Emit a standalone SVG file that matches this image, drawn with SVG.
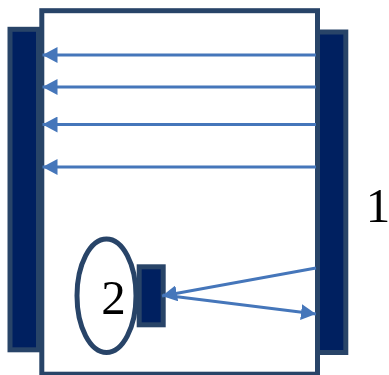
<svg xmlns="http://www.w3.org/2000/svg" width="389" height="375" viewBox="0 0 389 375">
<style>
.bar{fill:#002060;stroke:#284468;stroke-width:5}
.wire{fill:none;stroke:#4576ba;stroke-width:3;marker-end:url(#a)}
text{font-family:"Liberation Serif","DejaVu Serif",serif;fill:#000}
</style>
<defs><marker id="a" markerUnits="userSpaceOnUse" markerWidth="16" markerHeight="16" refX="15" refY="8" orient="auto"><path d="M0 0L15 8L0 16Z" fill="#4576ba"/></marker></defs>
<rect width="389" height="375" fill="#fff"/>
<g id="left-bar"><rect class="bar" x="10" y="29.300" width="28.500" height="320.500"/></g>
<g id="frame"><rect x="41.800" y="10.700" width="275.700" height="363.500" fill="#fff" stroke="#284468" stroke-width="5"/></g>
<g id="right-bar"><rect class="bar" x="317.500" y="32" width="28.300" height="320.500"/></g>
<g id="small-bar"><rect class="bar" x="139.200" y="266.800" width="24" height="58"/></g>
<g id="node-2"><ellipse cx="106.500" cy="295.800" rx="29.500" ry="56.700" fill="#fff" stroke="#284468" stroke-width="5"/><text x="113.500" y="314" font-size="49" text-anchor="middle">2</text></g>
<g id="label-1"><text x="378" y="222" font-size="49" text-anchor="middle">1</text></g>
<g id="connectors">
<path class="wire" d="M316 55H42.500"/>
<path class="wire" d="M316 87H42.500"/>
<path class="wire" d="M316 124.500H42.500"/>
<path class="wire" d="M316 167H42.500"/>
<path class="wire" d="M316 268L162 296"/>
<path class="wire" d="M163 295L316 314"/>
</g>
</svg>
